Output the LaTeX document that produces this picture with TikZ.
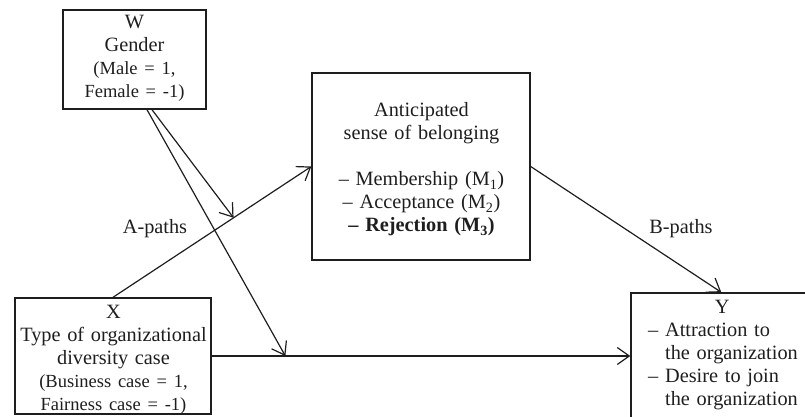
\documentclass[tikz,border=0pt]{standalone}
\usepackage{fontspec}
\setmainfont{Liberation Serif}
\usetikzlibrary{arrows.meta,calc}
\definecolor{ink}{HTML}{1E1E1E}
\newcommand\pfont{\fontsize{18.5}{23}\selectfont}
\begin{document}
\begin{tikzpicture}[x=1pt,y=-1pt,
  box/.style={draw=ink, line width=1.4pt, inner sep=0pt},
  txt/.style={text=ink, inner sep=0pt, font=\fontsize{20.3}{23}\selectfont},
  arr/.style={draw=ink, line width=1.2pt, -{Straight Barb[length=12pt,width=17pt,line width=1.2pt]}}
]
\useasboundingbox (0,0) rectangle (805,417);
\clip (0,0) rectangle (805,417);

% boxes
\node[box, minimum width=143pt, minimum height=99pt]  (W) at (134.5,59.5) {};
\node[box, minimum width=196pt, minimum height=116pt] (X) at (113,356) {};
\node[box, minimum width=218pt, minimum height=187pt] (M) at (421,166.5) {};
\node[box, minimum width=200pt, minimum height=160pt] (Y) at (731,373) {};

% box texts
\node[txt, text width=180pt, align=center, anchor=base] (Wt) at (134.5,29)
  {W\\Gender\\{\pfont (Male = 1,}\\{\pfont Female = -1)}};
\node[txt, text width=196pt, align=center, anchor=base] (Xt) at (113.5,318)
  {X\\Type of organizational\\diversity case\\{\pfont (Business case = 1,}\\{\pfont Fairness case = -1)}};
\node[txt, text width=210pt, align=center, anchor=base] (Mt) at (421.5,117)
  {Anticipated\\sense of belonging\\[23pt]– Membership (M\textsubscript{1})\\– Acceptance (M\textsubscript{2})\\\textbf{– Rejection (M\textsubscript{3})}};
\node[txt, text width=200pt, align=left, anchor=base west] (Yt) at (648,313)
  {\makebox[148pt]{Y}\\– Attraction to\\\phantom{– }the organization\\– Desire to join\\\phantom{– }the organization};

% path labels
\node[txt, anchor=base] (la) at (155,233) {A-paths};
\node[txt, anchor=base] (lb) at (681,233) {B-paths};

% connectors
\coordinate (a1) at ($(X.north)!0.608!(M.west)$);
\coordinate (yx) at (X.east -| Y.west);
\coordinate (a2) at ($(X.east)!0.176!(yx)$);
\draw[arr] (X.north) -- (M.west);
\draw[arr] (X.east) -- (yx);
\draw[arr] (M.east) -- ([xshift=91pt]Y.north west);
\draw[arr] ([xshift=17.5pt]W.south) -- (a1);
\draw[arr] ([xshift=12.5pt]W.south) -- (a2);
\end{tikzpicture}
\end{document}
